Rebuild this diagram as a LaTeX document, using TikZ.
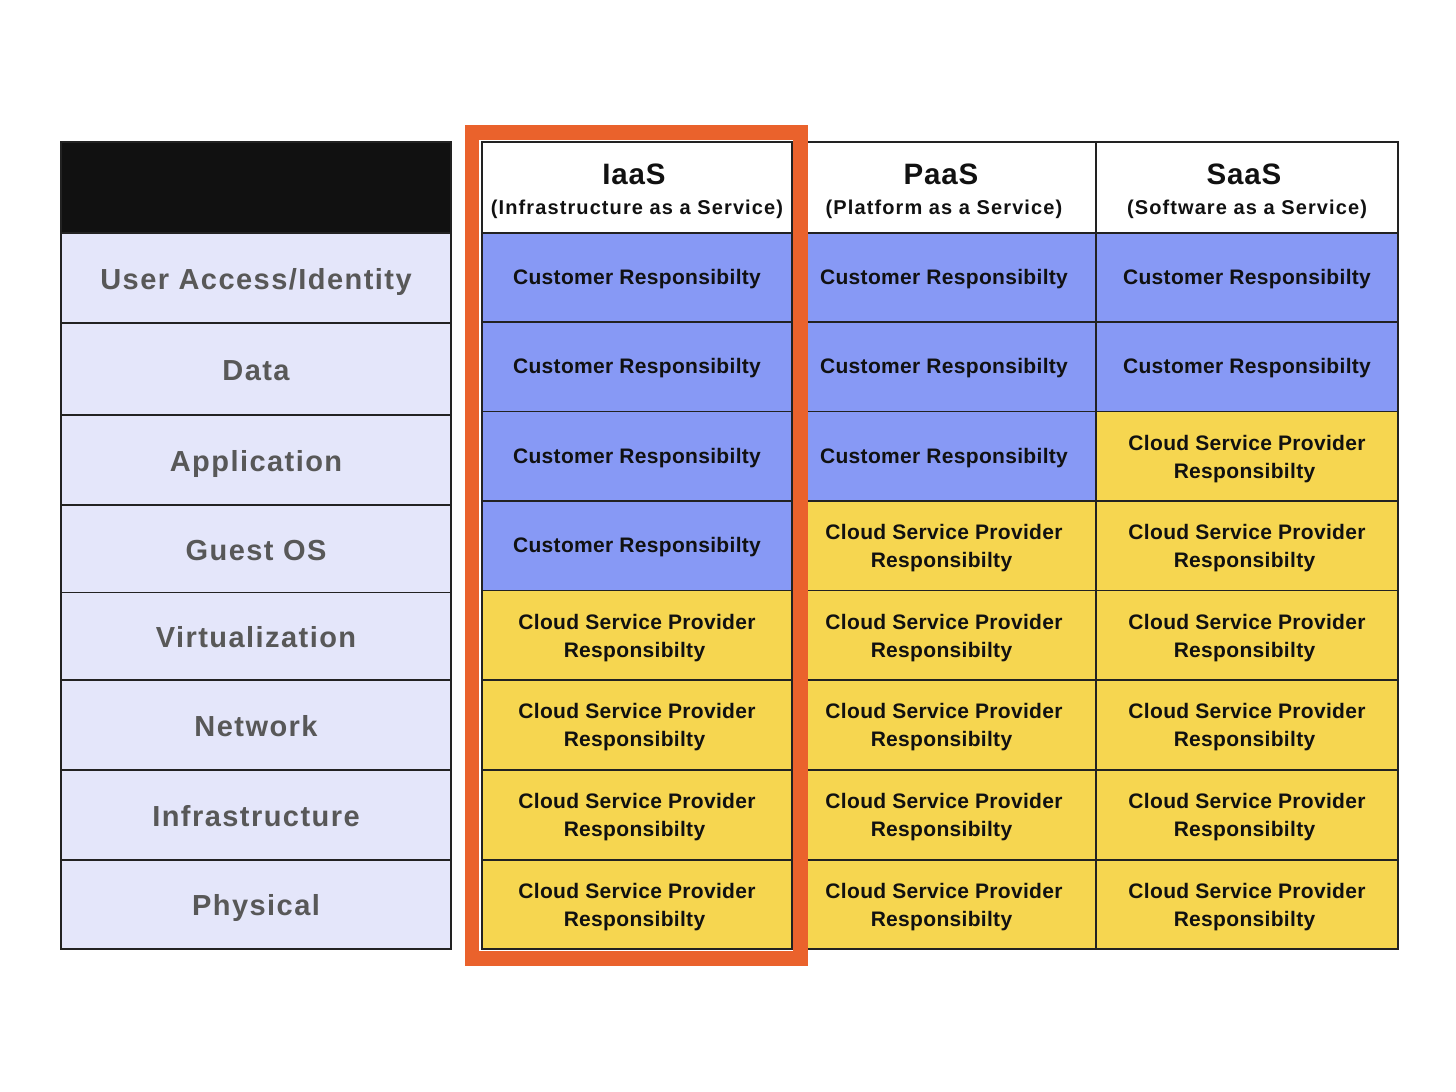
\documentclass[tikz,border=0pt]{standalone}
\usepackage{fontspec}
\setmainfont{Liberation Sans}
\newfontfamily\cellfont[LetterSpace=1.5]{Liberation Sans}
\newfontfamily\labfont[LetterSpace=5]{Liberation Sans}
\newfontfamily\subfont[LetterSpace=5.5]{Liberation Sans}
\newfontfamily\titlefont[LetterSpace=3]{Liberation Sans}
\definecolor{lav}{HTML}{E4E6FA}
\definecolor{cblue}{HTML}{8799F5}
\definecolor{cyel}{HTML}{F6D650}
\definecolor{hlor}{HTML}{EA622C}
\definecolor{hdblack}{HTML}{111111}
\definecolor{labgray}{HTML}{585858}
\definecolor{bordc}{HTML}{222222}
\tikzset{
  cellbase/.style={draw=bordc, line width=1.5pt, inner sep=0pt, text=hdblack,
    font=\cellfont\bfseries\fontsize{21}{28}\selectfont},
  custcell/.style={cellbase, fill=cblue},
  cspcell/.style={cellbase, fill=cyel},
  headcell/.style={cellbase, fill=white},
  labcell/.style={draw=bordc, line width=1.5pt, inner sep=0pt, fill=lav, text=labgray,
    text height=22.8pt, text depth=0pt,
    font=\labfont\bfseries\fontsize{29}{34}\selectfont},
  blackcell/.style={draw=bordc, line width=1.5pt, fill=hdblack, inner sep=0pt},
}
\newcommand\mycell[7]{\node[#6, minimum width=#4pt-#2pt, minimum height=#5pt-#3pt] (#1) at ({(#2+#4)/2},{(#3+#5)/2}) {#7};}
\newcommand\csp{\raisebox{-2.2pt}[\height][\depth]{\begin{tabular}{@{}c@{}}Cloud Service Provider\\Responsibilty\hspace*{5pt}\end{tabular}}}
\newcommand\cust{\raisebox{-1.2pt}[\height][\depth]{\begin{tabular}{@{}c@{}}Customer Responsibilty\end{tabular}}}
\newcommand\hd[2]{\raisebox{-5.9pt}[\height][\depth]{\fontsize{20}{30}\selectfont\begin{tabular}{@{}c@{}}{\titlefont\bfseries\fontsize{29.5}{30}\selectfont #1}\hspace*{6pt}\\{\subfont\bfseries #2}\end{tabular}}}
\begin{document}
\begin{tikzpicture}[x=1pt,y=-1pt]
\useasboundingbox[fill=white] (0,0) rectangle (1456,1092);
% left column
\mycell{lh}{61}{142}{451}{233}{blackcell}{}
\mycell{l1}{61}{233}{451}{323}{labcell}{User Access/Identity}
\mycell{l2}{61}{323}{451}{415}{labcell}{Data}
\mycell{l3}{61}{415}{451}{505}{labcell}{Application}
\mycell{l4}{61}{505}{451}{592.5}{labcell}{Guest OS}
\mycell{l5}{61}{592.5}{451}{680}{labcell}{Virtualization}
\mycell{l6}{61}{680}{451}{770}{labcell}{Network}
\mycell{l7}{61}{770}{451}{860}{labcell}{Infrastructure}
\mycell{l8}{61}{860}{451}{949}{labcell}{Physical}
% headers
\mycell{h1}{482}{142}{792}{233}{headcell}{\hd{IaaS}{(Infrastructure as a Service)}}
\mycell{h2}{792}{142}{1096}{233}{headcell}{\hd{PaaS}{(Platform as a Service)}}
\mycell{h3}{1096}{142}{1398}{233}{headcell}{\hd{SaaS}{(Software as a Service)}}
% IaaS
\mycell{a1}{482}{233}{792}{322}{custcell}{\cust}
\mycell{a2}{482}{322}{792}{411.5}{custcell}{\cust}
\mycell{a3}{482}{411.5}{792}{501}{custcell}{\cust}
\mycell{a4}{482}{501}{792}{590.5}{custcell}{\cust}
\mycell{a5}{482}{590.5}{792}{680}{cspcell}{\csp}
\mycell{a6}{482}{680}{792}{770}{cspcell}{\csp}
\mycell{a7}{482}{770}{792}{860}{cspcell}{\csp}
\mycell{a8}{482}{860}{792}{949}{cspcell}{\csp}
% PaaS
\mycell{b1}{792}{233}{1096}{322}{custcell}{\cust}
\mycell{b2}{792}{322}{1096}{411.5}{custcell}{\cust}
\mycell{b3}{792}{411.5}{1096}{501}{custcell}{\cust}
\mycell{b4}{792}{501}{1096}{590.5}{cspcell}{\csp}
\mycell{b5}{792}{590.5}{1096}{680}{cspcell}{\csp}
\mycell{b6}{792}{680}{1096}{770}{cspcell}{\csp}
\mycell{b7}{792}{770}{1096}{860}{cspcell}{\csp}
\mycell{b8}{792}{860}{1096}{949}{cspcell}{\csp}
% SaaS
\mycell{c1}{1096}{233}{1398}{322}{custcell}{\cust}
\mycell{c2}{1096}{322}{1398}{411.5}{custcell}{\cust}
\mycell{c3}{1096}{411.5}{1398}{501}{cspcell}{\csp}
\mycell{c4}{1096}{501}{1398}{590.5}{cspcell}{\csp}
\mycell{c5}{1096}{590.5}{1398}{680}{cspcell}{\csp}
\mycell{c6}{1096}{680}{1398}{770}{cspcell}{\csp}
\mycell{c7}{1096}{770}{1398}{860}{cspcell}{\csp}
\mycell{c8}{1096}{860}{1398}{949}{cspcell}{\csp}
% highlight
\draw[hlor, line width=14.5pt] (472.2,132.5) rectangle (800.5,958.5);
\end{tikzpicture}
\end{document}
